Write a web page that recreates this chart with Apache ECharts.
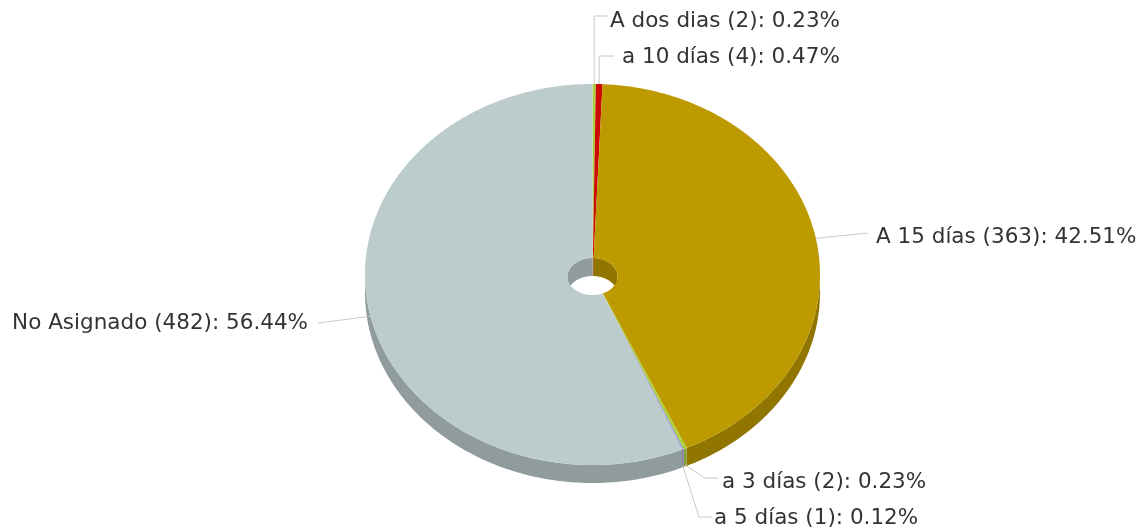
<!DOCTYPE html>
<html>
<head>
<meta charset="utf-8">
<script src="https://cdn.jsdelivr.net/npm/echarts@6/dist/echarts.min.js"></script>
<style>
  html, body { margin: 0; padding: 0; background: #fff; }
  #chart { width: 1144px; height: 529px; }
</style>
</head>
<body>
<div id="chart"></div>
<script>
// datos del gráfico
var names = ['A dos dias', 'a 10 días', 'A 15 días', 'a 3 días', 'a 5 días', 'No Asignado'];
var values = [2, 4, 363, 2, 1, 482];
var colors = ['#A9D13C', '#CC0A00', '#BD9B00', '#A9D13C', '#A594E0', '#BCCCCD'];

// geometría del pastel 3D
var CX = 592.5, CY = 274.5, RX = 227.5, RY = 190.5, DEPTH = 18;
var HCY = 276.5, HRX = 25, HRY = 18.5;
var PI = Math.PI;

// posición de las etiquetas (null = x del ancla)
var labelPos = [
  { via: [[null, 16], [608, 16]], x: 610, y: 21, align: 'left' },
  { via: [[null, 56], [614, 56]], x: 622, y: 57, align: 'left' },
  { via: [[868, 233]], x: 876, y: 237, align: 'left' },
  { via: [[705, 478], [718, 478]], x: 722, y: 482, align: 'left' },
  { via: [[699, 517], [712, 517]], x: 714, y: 518, align: 'left' },
  { via: [[318, 323]], x: 308, y: 323, align: 'right' }
];

var total = values.reduce(function (s, v) { return s + v; }, 0);
var starts = [];
var acc = 0;
values.forEach(function (v) {
  starts.push(acc / total * PI * 2);
  acc += v;
});
function endOf(i) { return starts[i] + values[i] / total * PI * 2; }

function ell(a, rx, ry, cy, dy) {
  return [CX + rx * Math.sin(a), cy - ry * Math.cos(a) + (dy || 0)];
}
function arc(a0, a1, rx, ry, cy, dy) {
  var n = Math.max(2, Math.ceil(Math.abs(a1 - a0) / 0.01));
  var pts = [];
  for (var k = 0; k <= n; k++) {
    pts.push(ell(a0 + (a1 - a0) * k / n, rx, ry, cy, dy));
  }
  return pts;
}
function clip(a0, a1, lo, hi) {
  var b0 = Math.max(a0, lo), b1 = Math.min(a1, hi);
  return b1 > b0 ? [b0, b1] : null;
}
function shade(hex, f) {
  var n = parseInt(hex.slice(1), 16);
  var r = Math.round(((n >> 16) & 255) * f);
  var g = Math.round(((n >> 8) & 255) * f);
  var b = Math.round((n & 255) * f);
  return 'rgb(' + r + ',' + g + ',' + b + ')';
}

function renderWall(params) {
  var i = params.dataIndex;
  var c = clip(starts[i], endOf(i), PI / 2, PI * 1.5);
  if (!c) return { type: 'group', children: [] };
  var pts = arc(c[0], c[1], RX, RY, CY, 0).concat(arc(c[1], c[0], RX, RY, CY, DEPTH));
  return { type: 'polygon', shape: { points: pts }, style: { fill: shade(colors[i], 0.76) } };
}

function renderInner(params) {
  var i = params.dataIndex;
  var kids = [];
  [[0, PI / 2], [PI * 1.5, PI * 2]].forEach(function (r) {
    var c = clip(starts[i], endOf(i), r[0], r[1]);
    if (!c) return;
    var pts = arc(c[0], c[1], HRX, HRY, HCY, 0).concat(arc(c[1], c[0], HRX, HRY, HCY, DEPTH));
    kids.push({ type: 'polygon', shape: { points: pts }, style: { fill: shade(colors[i], 0.76) } });
  });
  return { type: 'group', children: kids };
}

function renderTop(params) {
  var i = params.dataIndex;
  var a0 = starts[i], a1 = endOf(i);
  var pts = arc(a0, a1, RX, RY, CY, 0).concat(arc(a1, a0, HRX, HRY, HCY, 0));
  return { type: 'polygon', shape: { points: pts }, style: { fill: colors[i] } };
}

function renderLabel(params) {
  var i = params.dataIndex;
  var m = (starts[i] + endOf(i)) / 2;
  var anchor = ell(m, RX, RY, CY, DEPTH * Math.max(0, -Math.cos(m)));
  var lp = labelPos[i];
  var line = [anchor];
  lp.via.forEach(function (p) { line.push([p[0] === null ? anchor[0] : p[0], p[1]]); });
  var pct = (values[i] / total * 100).toFixed(2) + '%';
  return {
    type: 'group',
    children: [
      { type: 'polyline', shape: { points: line }, style: { stroke: '#C8C8C8', lineWidth: 1, fill: null } },
      {
        type: 'text',
        style: {
          text: names[i] + ' (' + values[i] + '): ' + pct,
          x: lp.x, y: lp.y,
          fill: '#333',
          fontFamily: 'DejaVu Sans',
          fontSize: 21.5,
          align: lp.align,
          verticalAlign: 'middle'
        }
      }
    ]
  };
}

var seriesData = values.map(function (v, i) { return { name: names[i], value: [i, v] }; });

var myChart = echarts.init(document.getElementById('chart'));
var option = {
  animation: false,
  series: [
    { type: 'custom', coordinateSystem: 'none', silent: true, z: 1, renderItem: renderWall, data: seriesData },
    { type: 'custom', coordinateSystem: 'none', silent: true, z: 1, renderItem: renderInner, data: seriesData },
    { type: 'custom', coordinateSystem: 'none', silent: true, z: 2, renderItem: renderTop, data: seriesData },
    { type: 'custom', coordinateSystem: 'none', silent: true, z: 3, renderItem: renderLabel, data: seriesData }
  ]
};
myChart.setOption(option);
</script>
</body>
</html>
